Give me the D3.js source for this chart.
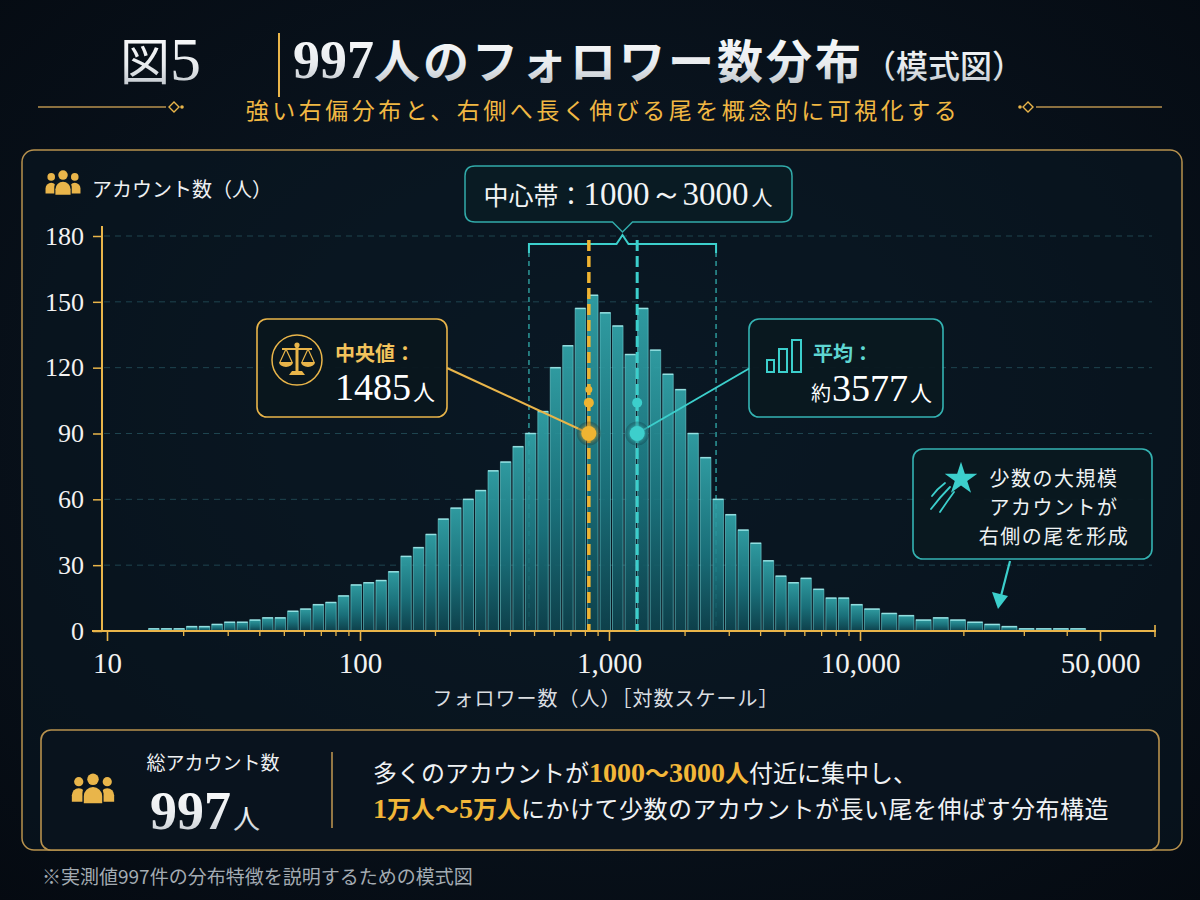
<!DOCTYPE html>
<html>
<head>
<meta charset="utf-8">
<script src="https://cdn.jsdelivr.net/npm/d3@7"></script>
<style>
  html, body { margin: 0; padding: 0; background: #060d16; }
  svg { display: block; }
</style>
</head>
<body>
<svg id="chart" width="1200" height="900"></svg>
<script>
// histogram: 0.05-decade bins starting at 10^1.16 (~14 followers)
const binStartLog = 1.16
const binStepLog = 0.05
const counts = [
  1, 1, 1, 2, 2, 3, 4, 4, 5, 6, 6, 9, 10, 12, 13, 16, 21,
  22, 23, 27, 34, 38, 44, 51, 56, 60, 64, 73, 77, 84, 90, 100,
  120, 130, 147, 153, 145, 139, 126, 147, 128, 117, 110, 90, 79, 60, 53, 46, 40, 32, 25, 22, 24, 19, 15, 15, 12,
  10, 8, 7, 5, 6, 5, 4, 3, 2, 1, 1, 1, 1
]
const yTicks = [0, 30, 60, 90, 120, 150, 180]
const xMajorTicks = [10, 100, 1000, 10000, 50000]

// where the picture puts the marker lines and the band (follower units)
const medianPos = 830
const meanPos = 1295
const markerLevel = 90
const bandRange = [477, 2670]

const medianText = ['中央値：', '1485', '人']
const meanText = ['平均：', '約', '3577', '人']
const bandText = ['中心帯：', '1000～3000', '人']
const tailText = ['少数の大規模', 'アカウントが', '右側の尾を形成']
const totalLabel = '総アカウント数'
const totalValue = '997'

const JP = "'Noto Sans CJK JP', 'Noto Sans', sans-serif"
const SERIF = "'Liberation Serif', 'DejaVu Serif', serif"
const GOLD = '#e9b54a'
const GOLD_LINE = '#b8924e'
const TEAL = '#3ccfcc'

const svg = d3.select('#chart')
const defs = svg.append('defs')

const bg = defs.append('radialGradient').attr('id', 'bg').attr('cx', '50%').attr('cy', '45%').attr('r', '75%')
bg.append('stop').attr('offset', '0%').attr('stop-color', '#0c1a27')
bg.append('stop').attr('offset', '100%').attr('stop-color', '#050a11')

const barGrad = defs.append('linearGradient').attr('id', 'barGrad').attr('x1', 0).attr('y1', 0).attr('x2', 0).attr('y2', 1)
barGrad.append('stop').attr('offset', '0%').attr('stop-color', '#32a5aa')
barGrad.append('stop').attr('offset', '55%').attr('stop-color', '#1b7680')
barGrad.append('stop').attr('offset', '100%').attr('stop-color', '#0e434e')

const silver = defs.append('linearGradient').attr('id', 'silver').attr('x1', 0).attr('y1', 0).attr('x2', 0).attr('y2', 1)
silver.append('stop').attr('offset', '0%').attr('stop-color', '#ffffff')
silver.append('stop').attr('offset', '60%').attr('stop-color', '#e8ebee')
silver.append('stop').attr('offset', '100%').attr('stop-color', '#b4bbc2')

const glow = defs.append('filter').attr('id', 'glow').attr('x', '-50%').attr('y', '-50%').attr('width', '200%').attr('height', '200%')
glow.append('feGaussianBlur').attr('stdDeviation', 2.5).attr('result', 'b')
const gm = glow.append('feMerge')
gm.append('feMergeNode').attr('in', 'b')
gm.append('feMergeNode').attr('in', 'SourceGraphic')

svg.append('rect').attr('width', 1200).attr('height', 900).attr('fill', 'url(#bg)')

// ---------- title ----------
const title = svg.append('text').attr('x', 120).attr('y', 80).attr('fill', 'url(#silver)')
title.append('tspan').attr('font-family', JP).attr('font-size', 50).text('図')
title.append('tspan').attr('font-family', SERIF).attr('font-size', 62).text('5')

svg.append('line').attr('x1', 279).attr('x2', 279).attr('y1', 33).attr('y2', 97)
  .attr('stroke', GOLD).attr('stroke-width', 2)

const main = svg.append('text').attr('x', 293).attr('y', 78).attr('fill', 'url(#silver)')
  .attr('font-weight', 700)
main.append('tspan').attr('font-family', SERIF).attr('font-size', 54).text('997')
main.append('tspan').attr('font-family', JP).attr('font-size', 46).attr('letter-spacing', 3).text('人のフォロワー数分布')
main.append('tspan').attr('font-family', JP).attr('font-size', 32).attr('font-weight', 500).text('（模式図）')

svg.append('text').attr('x', 603).attr('y', 119).attr('text-anchor', 'middle')
  .attr('font-family', JP).attr('font-size', 23).attr('letter-spacing', 3.5)
  .attr('fill', '#f1b843').text('強い右偏分布と、右側へ長く伸びる尾を概念的に可視化する')

function ornament(x1, x2, dx) {
  svg.append('line').attr('x1', x1).attr('x2', x2).attr('y1', 107).attr('y2', 107)
    .attr('stroke', GOLD_LINE).attr('stroke-width', 1.5)
  const g = svg.append('g').attr('transform', `translate(${x2 + dx},107)`)
  g.append('path').attr('d', 'M-5,0 L0,-5 L5,0 L0,5 Z').attr('fill', 'none').attr('stroke', GOLD).attr('stroke-width', 1.4)
  g.append('circle').attr('cx', dx > 0 ? 8 : -8).attr('r', 1.8).attr('fill', GOLD)
}
ornament(38, 166, 8)
ornament(1162, 1036, -8)

// ---------- panels ----------
svg.append('rect').attr('x', 22).attr('y', 150).attr('width', 1160).attr('height', 700).attr('rx', 12)
  .attr('fill', 'rgba(10,24,34,0.55)').attr('stroke', GOLD_LINE).attr('stroke-width', 1.5)

// ---------- scales ----------
const x = d3.scaleLog().domain(xMajorTicks).range([107, 360, 609, 860, 1100])
const y = d3.scaleLinear().domain([0, 180]).range([631, 236])
const xMinorTicks = x.ticks().filter(d => !xMajorTicks.includes(d))

const bins = counts.map((c, i) => ({
  x0: Math.pow(10, binStartLog + i * binStepLog),
  x1: Math.pow(10, binStartLog + (i + 1) * binStepLog),
  count: c
}))

// gridlines
svg.append('g').selectAll('line').data(yTicks.filter(d => d > 0)).join('line')
  .attr('x1', 104).attr('x2', 1152)
  .attr('y1', d => y(d)).attr('y2', d => y(d))
  .attr('stroke', '#24505b').attr('stroke-width', 1).attr('stroke-dasharray', '6,5').attr('opacity', 0.8)

// central band dashed guides
svg.append('g').selectAll('line').data(bandRange).join('line')
  .attr('x1', d => x(d)).attr('x2', d => x(d))
  .attr('y1', 252).attr('y2', y(0))
  .attr('stroke', TEAL).attr('stroke-width', 1.4).attr('stroke-dasharray', '5,4').attr('opacity', 0.75)

// bars
const barG = svg.append('g')
barG.selectAll('rect').data(bins).join('rect')
  .attr('x', d => x(d.x0) + 1)
  .attr('width', d => Math.max(1, x(d.x1) - x(d.x0) - 2))
  .attr('y', d => y(d.count))
  .attr('height', d => y(0) - y(d.count))
  .attr('fill', 'url(#barGrad)')
  .attr('fill-opacity', 0.92)
  .attr('stroke', '#74d9da').attr('stroke-opacity', 0.55).attr('stroke-width', 1)
barG.selectAll('line').data(bins).join('line')
  .attr('x1', d => x(d.x0) + 1).attr('x2', d => x(d.x1) - 1)
  .attr('y1', d => y(d.count)).attr('y2', d => y(d.count))
  .attr('stroke', '#a8f2f2').attr('stroke-width', 1.5).attr('opacity', 0.8)

// ---------- axes ----------
const yAxis = svg.append('g').attr('transform', 'translate(102,0)')
  .call(d3.axisLeft(y).tickValues(yTicks).tickSize(9).tickPadding(9))
yAxis.select('.domain').remove()
yAxis.selectAll('line').attr('stroke', GOLD).attr('stroke-width', 1.5)
yAxis.selectAll('text').attr('font-family', SERIF).attr('font-size', 26).attr('fill', '#f2f2f2')
svg.append('line').attr('x1', 102).attr('x2', 102).attr('y1', 226).attr('y2', 632)
  .attr('stroke', GOLD).attr('stroke-width', 2)

const xAxisMinor = svg.append('g').attr('transform', 'translate(0,631)')
  .call(d3.axisBottom(x).tickValues(xMinorTicks).tickSize(5).tickFormat(''))
xAxisMinor.select('.domain').remove()
xAxisMinor.selectAll('line').attr('stroke', GOLD).attr('stroke-width', 1.3)

const xAxis = svg.append('g').attr('transform', 'translate(0,631)')
  .call(d3.axisBottom(x).tickValues(xMajorTicks).tickSize(10).tickPadding(11).tickFormat(d3.format(',')))
xAxis.select('.domain').remove()
xAxis.selectAll('line').attr('stroke', GOLD).attr('stroke-width', 1.6)
xAxis.selectAll('text').attr('font-family', SERIF).attr('font-size', 29).attr('fill', '#f2f2f2')
svg.append('line').attr('x1', 92).attr('x2', 1156).attr('y1', 631).attr('y2', 631)
  .attr('stroke', GOLD).attr('stroke-width', 2)
svg.append('line').attr('x1', 1155).attr('x2', 1155).attr('y1', 625).attr('y2', 637)
  .attr('stroke', GOLD).attr('stroke-width', 1.6)

svg.append('text').attr('x', 606).attr('y', 706).attr('text-anchor', 'middle')
  .attr('font-family', JP).attr('font-size', 20).attr('letter-spacing', 1).attr('fill', '#d9dde0')
  .text('フォロワー数（人）［対数スケール］')

// y axis title with people icon
function people(cx, cy, s, color, hole) {
  const g = svg.append('g').attr('fill', color)
  const fig = (fx, fy, r, w, b) => {
    g.append('circle').attr('cx', fx).attr('cy', fy).attr('r', r)
    const t = fy + r + 2
    g.append('path').attr('d', `M${fx - w},${b} V${t + w} A${w},${w} 0 0 1 ${fx + w},${t + w} V${b} Z`)
  }
  fig(cx - 0.62 * s, cy - 0.32 * s, 0.2 * s, 0.3 * s, cy + 0.55 * s)
  fig(cx + 0.62 * s, cy - 0.32 * s, 0.2 * s, 0.3 * s, cy + 0.55 * s)
  g.append('path')
    .attr('d', `M${cx - 0.46 * s},${cy + 0.62 * s} V${cy + 0.2 * s} A${0.46 * s},${0.46 * s} 0 0 1 ${cx + 0.46 * s},${cy + 0.2 * s} V${cy + 0.62 * s} Z`)
    .attr('fill', hole)
  fig(cx, cy - 0.42 * s, 0.25 * s, 0.4 * s, cy + 0.62 * s)
}
people(63, 183, 19, GOLD, '#0a1822')
svg.append('text').attr('x', 92).attr('y', 197)
  .attr('font-family', JP).attr('font-size', 20).attr('fill', '#eef0f2').text('アカウント数（人）')

// ---------- central band bracket & callout ----------
const bx0 = x(bandRange[0]), bx1 = x(bandRange[1]), bmid = (bx0 + bx1) / 2
svg.append('path')
  .attr('d', `M${bx0},253 V244 H${bmid - 6} L${bmid},235 L${bmid + 6},244 H${bx1} V253`)
  .attr('fill', 'none').attr('stroke', TEAL).attr('stroke-width', 2)
svg.append('path')
  .attr('d', `M475,166 H782 Q792,166 792,176 V212 Q792,222 782,222 H${bmid + 10} L${bmid},232 L${bmid - 10},222 H475 Q465,222 465,212 V176 Q465,166 475,166 Z`)
  .attr('fill', 'rgba(10,28,36,0.92)').attr('stroke', TEAL).attr('stroke-width', 1.5).attr('stroke-opacity', 0.8)
const bt = svg.append('text').attr('x', 628).attr('y', 205).attr('text-anchor', 'middle').attr('fill', '#f2f4f5')
bt.append('tspan').attr('font-family', JP).attr('font-size', 25).text(bandText[0])
bt.append('tspan').attr('font-family', SERIF).attr('font-size', 33).text(bandText[1])
bt.append('tspan').attr('font-family', JP).attr('font-size', 21).attr('dx', 3).text(bandText[2])

// ---------- median / mean lines ----------
const mx = x(medianPos), ax = x(meanPos)
svg.append('line').attr('x1', mx).attr('x2', mx).attr('y1', 240).attr('y2', 631)
  .attr('stroke', '#f0b431').attr('stroke-width', 3.5).attr('stroke-dasharray', '11,5')
svg.append('line').attr('x1', ax).attr('x2', ax).attr('y1', 240).attr('y2', 631)
  .attr('stroke', TEAL).attr('stroke-width', 3).attr('stroke-dasharray', '11,5')

// leader lines
svg.append('line').attr('x1', 447).attr('y1', 368).attr('x2', mx).attr('y2', y(markerLevel))
  .attr('stroke', GOLD).attr('stroke-width', 2)
svg.append('line').attr('x1', 750).attr('y1', 368).attr('x2', ax).attr('y2', y(markerLevel))
  .attr('stroke', TEAL).attr('stroke-width', 2)

;[[mx, '#f0b431'], [ax, TEAL]].forEach(([cx, col]) => {
  svg.append('circle').attr('cx', cx).attr('cy', y(markerLevel)).attr('r', 12).attr('fill', '#0a1822').attr('opacity', 0.25)
  svg.append('circle').attr('cx', cx).attr('cy', y(markerLevel)).attr('r', 7.5).attr('fill', col).attr('filter', 'url(#glow)')
  svg.append('circle').attr('cx', cx).attr('cy', y(104)).attr('r', 5).attr('fill', col)
})
svg.append('circle').attr('cx', mx).attr('cy', y(110)).attr('r', 3.5).attr('fill', '#f0b431')

// median callout
svg.append('rect').attr('x', 257).attr('y', 319).attr('width', 190).attr('height', 98).attr('rx', 10)
  .attr('fill', 'rgba(10,22,30,0.95)').attr('stroke', GOLD).attr('stroke-width', 1.6)
svg.append('circle').attr('cx', 297).attr('cy', 360).attr('r', 25)
  .attr('fill', 'none').attr('stroke', GOLD).attr('stroke-width', 1.5)
// balance icon
const sc = svg.append('g').attr('transform', 'translate(297,360)').attr('fill', GOLD).attr('stroke', GOLD)
sc.append('rect').attr('x', -1.5).attr('y', -14).attr('width', 3).attr('height', 25).attr('stroke', 'none')
sc.append('circle').attr('cy', -15).attr('r', 2.6).attr('stroke', 'none')
sc.append('line').attr('x1', -15).attr('x2', 15).attr('y1', -11).attr('y2', -11).attr('stroke-width', 2)
;[-11, 11].forEach(px => {
  sc.append('path').attr('d', `M${px},-11 L${px - 6},2 M${px},-11 L${px + 6},2`).attr('fill', 'none').attr('stroke-width', 1.2)
  sc.append('path').attr('d', `M${px - 7},2 A7,5 0 0 0 ${px + 7},2 Z`).attr('stroke', 'none')
})
sc.append('path').attr('d', 'M-5,11 L5,11 L8,15 L-8,15 Z').attr('stroke', 'none')

svg.append('text').attr('x', 335).attr('y', 361).attr('font-family', JP).attr('font-size', 20)
  .attr('font-weight', 700).attr('fill', '#f2c35c').text(medianText[0])
const mt = svg.append('text').attr('x', 335).attr('y', 400).attr('fill', '#ffffff')
mt.append('tspan').attr('font-family', SERIF).attr('font-size', 38).text(medianText[1])
mt.append('tspan').attr('font-family', JP).attr('font-size', 22).attr('dx', 2).text(medianText[2])

// mean callout
svg.append('rect').attr('x', 749).attr('y', 319).attr('width', 194).attr('height', 98).attr('rx', 10)
  .attr('fill', 'rgba(10,24,32,0.95)').attr('stroke', TEAL).attr('stroke-width', 1.6).attr('stroke-opacity', 0.85)
const mi = svg.append('g').attr('fill', 'none').attr('stroke', TEAL).attr('stroke-width', 2)
mi.append('rect').attr('x', 767).attr('y', 360).attr('width', 7).attr('height', 12)
mi.append('rect').attr('x', 779).attr('y', 349).attr('width', 8).attr('height', 23)
mi.append('rect').attr('x', 792).attr('y', 340).attr('width', 9).attr('height', 32)
svg.append('text').attr('x', 813).attr('y', 361).attr('font-family', JP).attr('font-size', 20)
  .attr('font-weight', 700).attr('fill', '#5fd6d2').text(meanText[0])
const at = svg.append('text').attr('x', 811).attr('y', 401).attr('fill', '#ffffff')
at.append('tspan').attr('font-family', JP).attr('font-size', 20).text(meanText[1])
at.append('tspan').attr('font-family', SERIF).attr('font-size', 38).attr('dx', 1).text(meanText[2])
at.append('tspan').attr('font-family', JP).attr('font-size', 22).attr('dx', 2).text(meanText[3])

// tail callout
svg.append('rect').attr('x', 913).attr('y', 449).attr('width', 239).attr('height', 110).attr('rx', 10)
  .attr('fill', 'rgba(10,24,32,0.95)').attr('stroke', TEAL).attr('stroke-width', 1.6).attr('stroke-opacity', 0.85)
svg.append('path').attr('d', d3.symbol(d3.symbolStar, 330)())
  .attr('transform', 'translate(961,479)').attr('fill', TEAL)
const streak = svg.append('g').attr('fill', 'none').attr('stroke', TEAL).attr('stroke-width', 1.8).attr('stroke-linecap', 'round')
streak.append('path').attr('d', 'M950,487 Q940,497 931,509')
streak.append('path').attr('d', 'M954,492 Q946,503 940,512')
streak.append('path').attr('d', 'M945,483 Q937,489 932,496')
svg.append('g').selectAll('text').data(tailText).join('text')
  .attr('x', 1054).attr('y', (d, i) => 486 + i * 29).attr('text-anchor', 'middle')
  .attr('font-family', JP).attr('font-size', 20).attr('letter-spacing', 1.5).attr('fill', '#eef2f3')
  .text(d => d)
svg.append('line').attr('x1', 1010).attr('y1', 561).attr('x2', 1001).attr('y2', 596)
  .attr('stroke', TEAL).attr('stroke-width', 2.2)
svg.append('path').attr('d', 'M992,592 L1008,596 L998,609 Z').attr('fill', TEAL)

// ---------- bottom summary panel ----------
svg.append('rect').attr('x', 41).attr('y', 730).attr('width', 1118).attr('height', 120).attr('rx', 10)
  .attr('fill', 'rgba(9,20,30,0.97)').attr('stroke', GOLD_LINE).attr('stroke-width', 1.6)
people(93, 789, 23, GOLD, '#0a1620')
svg.append('text').attr('x', 213).attr('y', 770).attr('text-anchor', 'middle')
  .attr('font-family', JP).attr('font-size', 19).attr('fill', '#eef0f2').text(totalLabel)
const tv = svg.append('text').attr('x', 150).attr('y', 829).attr('fill', 'url(#silver)')
tv.append('tspan').attr('font-family', SERIF).attr('font-size', 54).attr('font-weight', 700).text(totalValue)
tv.append('tspan').attr('font-family', JP).attr('font-size', 27).attr('dx', 2).text('人')
svg.append('line').attr('x1', 332).attr('x2', 332).attr('y1', 752).attr('y2', 828)
  .attr('stroke', GOLD_LINE).attr('stroke-width', 1.6)

const l1 = svg.append('text').attr('x', 373).attr('y', 782).attr('font-family', JP).attr('font-size', 24).attr('fill', '#f0f2f4')
l1.append('tspan').text('多くのアカウントが')
l1.append('tspan').attr('fill', '#f2b638').attr('font-weight', 700).attr('font-family', SERIF).attr('font-size', 28).text('1000')
l1.append('tspan').attr('fill', '#f2b638').attr('font-weight', 700).text('～')
l1.append('tspan').attr('fill', '#f2b638').attr('font-weight', 700).attr('font-family', SERIF).attr('font-size', 28).text('3000')
l1.append('tspan').attr('fill', '#f2b638').attr('font-weight', 700).text('人')
l1.append('tspan').text('付近に集中し、')

const l2 = svg.append('text').attr('x', 373).attr('y', 818).attr('font-family', JP).attr('font-size', 24).attr('fill', '#f0f2f4')
const gold2 = [['1', true], ['万人～', false], ['5', true], ['万人', false]]
gold2.forEach(([t, num]) => {
  const ts = l2.append('tspan').attr('fill', '#f2b638').attr('font-weight', 700).text(t)
  if (num) ts.attr('font-family', SERIF).attr('font-size', 28)
})
l2.append('tspan').attr('letter-spacing', 0.5).text('にかけて少数のアカウントが長い尾を伸ばす分布構造')

svg.append('text').attr('x', 42).attr('y', 884).attr('font-family', JP).attr('font-size', 19)
  .attr('fill', '#a3abb2').text('※実測値997件の分布特徴を説明するための模式図')
</script>
</body>
</html>
